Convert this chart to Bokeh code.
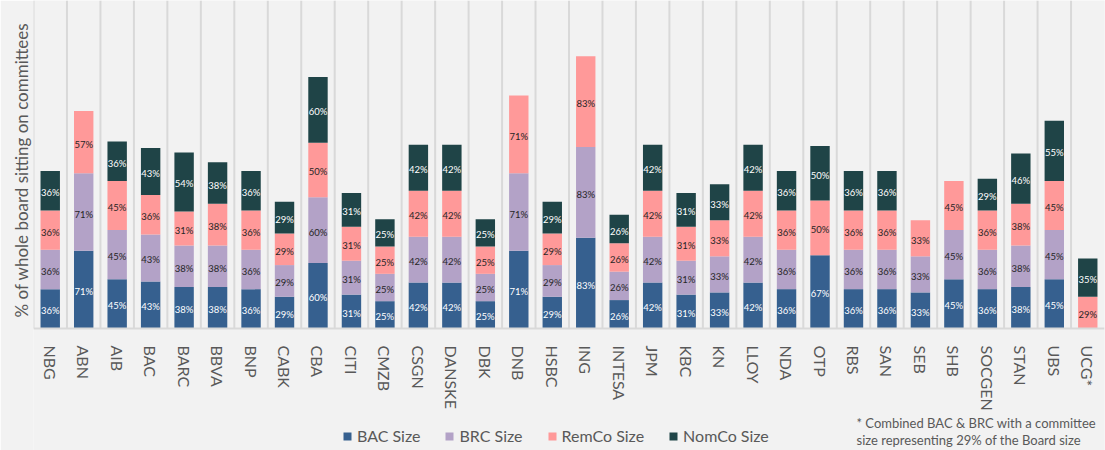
import pandas as pd
from bokeh.plotting import figure
from bokeh.models import ColumnDataSource, FactorRange, Range1d, Legend, LegendItem, Label, Title
from bokeh.transform import dodge
from bokeh.core.properties import value
from bokeh.embed import file_html
from bokeh.resources import INLINE

banks = ["NBG", "ABN", "AIB", "BAC", "BARC", "BBVA", "BNP", "CABK", "CBA", "CITI",
         "CMZB", "CSGN", "DANSKE", "DBK", "DNB", "HSBC", "ING", "INTESA", "JPM", "KBC",
         "KN", "LLOY", "NDA", "OTP", "RBS", "SAN", "SEB", "SHB", "SOCGEN", "STAN", "UBS", "UCG*"]
bac_size   = [36, 71, 45, 43, 38, 38, 36, 29, 60, 31, 25, 42, 42, 25, 71, 29, 83, 26, 42, 31, 33, 42, 36, 67, 36, 36, 33, 45, 36, 38, 45, 0]
brc_size   = [36, 71, 45, 43, 38, 38, 36, 29, 60, 31, 25, 42, 42, 25, 71, 29, 83, 26, 42, 31, 33, 42, 36, 0, 36, 36, 33, 45, 36, 38, 45, 0]
remco_size = [36, 57, 45, 36, 31, 38, 36, 29, 50, 31, 25, 42, 42, 25, 71, 29, 83, 26, 42, 31, 33, 42, 36, 50, 36, 36, 33, 45, 36, 38, 45, 29]
nomco_size = [36, 0, 36, 43, 54, 38, 36, 29, 60, 31, 25, 42, 42, 25, 0, 29, 0, 26, 42, 31, 33, 42, 36, 50, 36, 36, 0, 0, 29, 46, 55, 35]

series = ["BAC Size", "BRC Size", "RemCo Size", "NomCo Size"]
stackers = ["bac", "brc", "remco", "nomco"]
colors = ["#36608F", "#B3A2C7", "#FF9999", "#1F4447"]
label_colors = ["#FFFFFF", "#262626", "#262626", "#FFFFFF"]
y_title = "% of whole board sitting on committees"
footnote = ["* Combined BAC & BRC with a committee", "size representing 29% of the Board size"]

df = pd.DataFrame({"bank": banks, "bac": bac_size, "brc": brc_size,
                   "remco": remco_size, "nomco": nomco_size})
src = ColumnDataSource(df)

# segment labels (centre of each non-empty segment)
rows = []
base = [0] * len(banks)
for k, s in enumerate(stackers):
    for j, b in enumerate(banks):
        v = df[s][j]
        if v > 0:
            rows.append({"x": b, "y": base[j] + v / 2, "t": f"{v}%", "c": label_colors[k]})
        base[j] += v
lab = ColumnDataSource(pd.DataFrame(rows))

BG = "#F2F2F2"
GREY = "#595959"
W, H = 1105, 450
LEFT = 33
AXIS_Y = 328          # pixel row of the category axis
Y_TOP = 300           # value at top of plot frame
y_bottom = -Y_TOP * (H - AXIS_Y) / AXIS_Y

p = figure(x_range=FactorRange(*banks), y_range=Range1d(y_bottom, Y_TOP),
           width=W, height=H, output_backend="svg", toolbar_location=None,
           min_border_left=LEFT, min_border_right=1, min_border_top=0, min_border_bottom=0,
           background_fill_color=BG, border_fill_color=BG, outline_line_color=None)

# separators between categories
p.segment(x0=dodge("bank", -0.5, range=p.x_range), y0=0,
          x1=dodge("bank", -0.5, range=p.x_range), y1=Y_TOP,
          source=src, line_color="#D9D9D9", line_width=2)

renderers = p.vbar_stack(stackers, x="bank", width=0.58, source=src,
                         fill_color=colors, line_color=None)

p.text(x="x", y="y", text="t", text_color="c", source=lab,
       text_align="center", text_baseline="middle",
       text_font=value("Lato"), text_font_size="9.5px", y_offset=2)

p.xgrid.visible = False
p.ygrid.visible = False
p.yaxis.visible = False

xa = p.xaxis[0]
xa.fixed_location = 0
xa.major_label_orientation = "vertical"
xa.major_label_text_font = "Lato"
xa.major_label_text_font_size = "16px"
xa.major_label_text_color = GREY
xa.axis_line_color = "#D9D9D9"
xa.axis_line_width = 2
xa.major_tick_line_color = None
xa.minor_tick_line_color = None
xa.major_label_standoff = 11

p.add_layout(Title(text=y_title, align="left", offset=133, standoff=3,
                   text_font="Lato", text_font_size="17px", text_font_style="normal",
                   text_color=GREY), "left")

legend = Legend(items=[LegendItem(label=s, renderers=[r]) for s, r in zip(series, renderers)],
                location=(309, 5), orientation="horizontal",
                glyph_width=10, glyph_height=10, label_height=10, label_standoff=5,
                spacing=24, padding=0, margin=0,
                label_text_font="Lato", label_text_font_size="16px", label_text_color=GREY,
                background_fill_alpha=0, border_line_color=None)
p.add_layout(legend)

for i, line in enumerate(footnote):
    p.add_layout(Label(x=823, y=28 - 17 * i, x_units="screen", y_units="screen",
                       text=line, text_font="Lato", text_font_size="13px",
                       text_color=GREY, text_baseline="middle"))

open("out.html", "w").write(file_html(p, INLINE))
